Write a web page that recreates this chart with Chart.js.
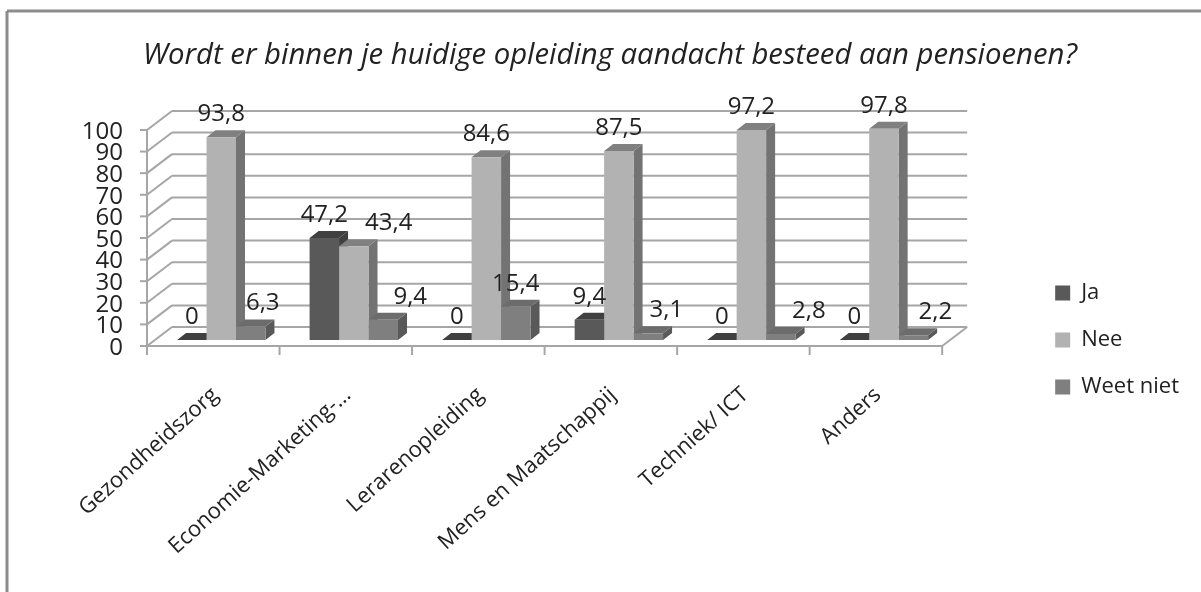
<!DOCTYPE html>
<html>
<head>
<meta charset="utf-8">
<title>Pensioenen</title>
<script src="https://cdn.jsdelivr.net/npm/chart.js@4"></script>
<style>
    html, body { margin: 0; padding: 0; background: #fff; overflow: hidden; }
    #wrap { width: 1201px; height: 592px; }
</style>
</head>
<body>
<div id="wrap"><canvas id="chart" width="1201" height="592"></canvas></div>
<script>
// --- Data ---
const categories = ['Gezondheidszorg', 'Economie-Marketing-…', 'Lerarenopleiding', 'Mens en Maatschappij', 'Techniek/ ICT', 'Anders'];
const ja = [0, 47.2, 0, 9.4, 0, 0];
const nee = [93.8, 43.4, 84.6, 87.5, 97.2, 97.8];
const weetNiet = [6.3, 9.4, 15.4, 3.1, 2.8, 2.2];
const yTicks = [0, 10, 20, 30, 40, 50, 60, 70, 80, 90, 100];

// --- Look of the fake 3D ---
const fontName = "'Open Sans', Lato, sans-serif";
const textColor = '#222';
const gridColor = '#a6a6a6';
const wall = { dx: 25, dy: -19 };      // depth of the back wall
const barShift = { dx: 8, dy: -6 };    // bars stand a bit behind the front edge
const barDepth = { dx: 9, dy: -7 };
const faces = [
    { front: '#595959', side: '#404040', top: '#404040' },
    { front: '#b2b2b2', side: '#737373', top: '#808080' },
    { front: '#7f7f7f', side: '#595959', top: '#6c6c6c' }
];
// value labels slide sideways where they would hit a neighbour
const labelNudge = [
    [0, 0, 0, 0, 0, 0],
    [0, 35, 0, 0, 0, 0],
    [12, 27, 0, 18, 28, 22]
];

function poly(ctx, pts, color) {
    ctx.fillStyle = color;
    ctx.beginPath();
    pts.forEach((p, i) => i ? ctx.lineTo(p[0], p[1]) : ctx.moveTo(p[0], p[1]));
    ctx.closePath();
    ctx.fill();
}

function line(ctx, x1, y1, x2, y2) {
    ctx.beginPath();
    ctx.moveTo(x1, y1);
    ctx.lineTo(x2, y2);
    ctx.stroke();
}

// frame, walls and floor behind the bars
const wallsPlugin = {
    id: 'walls',
    afterLayout(chart) {
        // the rotated labels run lower than the box kept for the axis, do not clip them
        chart.scales.x.bottom = chart.height;
    },
    beforeDatasetsDraw(chart) {
        const { ctx, chartArea, scales } = chart;
        const { left, right, bottom } = chartArea;
        ctx.save();

        ctx.strokeStyle = '#8c8c8c';
        ctx.lineWidth = 3;
        line(ctx, 7, 592, 7, 11);
        line(ctx, 7, 11, 1201, 11);

        ctx.strokeStyle = gridColor;
        ctx.lineWidth = 2;
        yTicks.forEach(v => {
            const y = scales.y.getPixelForValue(v);
            line(ctx, left - 7, y, left, y);
            line(ctx, left, y, left + wall.dx, y + wall.dy);
            line(ctx, left + wall.dx, y + wall.dy, right + wall.dx, y + wall.dy);
        });
        line(ctx, left, chartArea.top, left, bottom);
        line(ctx, left, bottom, right, bottom);
        line(ctx, right, bottom, right + wall.dx, bottom + wall.dy);
        for (let i = 0; i <= categories.length; i++) {
            const x = left + (right - left) * i / categories.length;
            line(ctx, x, bottom, x, bottom + 9);
        }

        // side and top faces, left to right so each bar covers its left neighbour
        categories.forEach((c, i) => {
            chart.data.datasets.forEach((ds, d) => {
                const bar = chart.getDatasetMeta(d).data[i];
                const x1 = bar.x - bar.width / 2 + barShift.dx;
                const x2 = bar.x + bar.width / 2 + barShift.dx;
                const yTop = bar.y + barShift.dy;
                const yBase = bar.base + barShift.dy;
                poly(ctx, [[x2, yTop], [x2 + barDepth.dx, yTop + barDepth.dy], [x2 + barDepth.dx, yBase + barDepth.dy], [x2, yBase]], faces[d].side);
                poly(ctx, [[x1, yTop], [x1 + barDepth.dx, yTop + barDepth.dy], [x2 + barDepth.dx, yTop + barDepth.dy], [x2, yTop]], faces[d].top);
            });
        });

        // front faces come from Chart.js, moved onto the bar plane
        ctx.restore();
        ctx.save();
        ctx.translate(barShift.dx, barShift.dy);
    },
    afterDatasetsDraw(chart) {
        const { ctx } = chart;
        ctx.restore();
        // value labels
        ctx.save();
        ctx.font = '24px ' + fontName;
        ctx.fillStyle = textColor;
        ctx.textAlign = 'center';
        ctx.textBaseline = 'middle';
        chart.data.datasets.forEach((ds, d) => {
            chart.getDatasetMeta(d).data.forEach((bar, i) => {
                const txt = String(ds.data[i]).replace('.', ',');
                ctx.fillText(txt, bar.x + barShift.dx + labelNudge[d][i], bar.y + barShift.dy - 23);
            });
        });
        ctx.restore();
    }
};

new Chart(document.getElementById('chart'), {
    type: 'bar',
    data: {
        labels: categories,
        datasets: [
            { label: 'Ja', data: ja, backgroundColor: faces[0].front },
            { label: 'Nee', data: nee, backgroundColor: faces[1].front },
            { label: 'Weet niet', data: weetNiet, backgroundColor: faces[2].front }
        ]
    },
    options: {
        responsive: false,
        animation: false,
        layout: { padding: { left: 31, right: 12, top: 0, bottom: 169 } },
        datasets: { bar: { categoryPercentage: 0.667, barPercentage: 1, clip: false } },
        scales: {
            x: {
                grid: { display: false },
                border: { display: false },
                afterFit(s) { s.height = 77; },
                ticks: {
                    autoSkip: false,
                    minRotation: 42,
                    maxRotation: 42,
                    labelOffset: 2,
                    padding: 28,
                    color: textColor,
                    font: { family: fontName, size: 22 }
                }
            },
            y: {
                min: 0,
                max: 100,
                afterFit(s) { s.width = 116; },
                afterBuildTicks(s) { s.ticks = yTicks.map(v => ({ value: v })); },
                grid: { display: false },
                border: { display: false },
                ticks: { autoSkip: false, padding: 16, labelOffset: 2, color: textColor, font: { family: fontName, size: 24 } }
            },
            spacer: {
                position: 'right',
                display: true,
                afterFit(s) { s.width = 88; },
                grid: { display: false },
                border: { display: false },
                ticks: { display: false }
            }
        },
        plugins: {
            title: {
                display: true,
                text: 'Wordt er binnen je huidige opleiding aandacht besteed aan pensioenen?',
                color: textColor,
                font: { family: fontName, size: 29.3, style: 'italic', weight: 'normal' },
                padding: { top: 38.5, bottom: 56.3 }
            },
            legend: {
                position: 'right',
                align: 'end',
                labels: {
                    boxWidth: 15,
                    boxHeight: 15,
                    padding: 25,
                    color: textColor,
                    font: { family: fontName, size: 22 }
                }
            },
            tooltip: { enabled: false }
        }
    },
    plugins: [wallsPlugin]
});
</script>
</body>
</html>
